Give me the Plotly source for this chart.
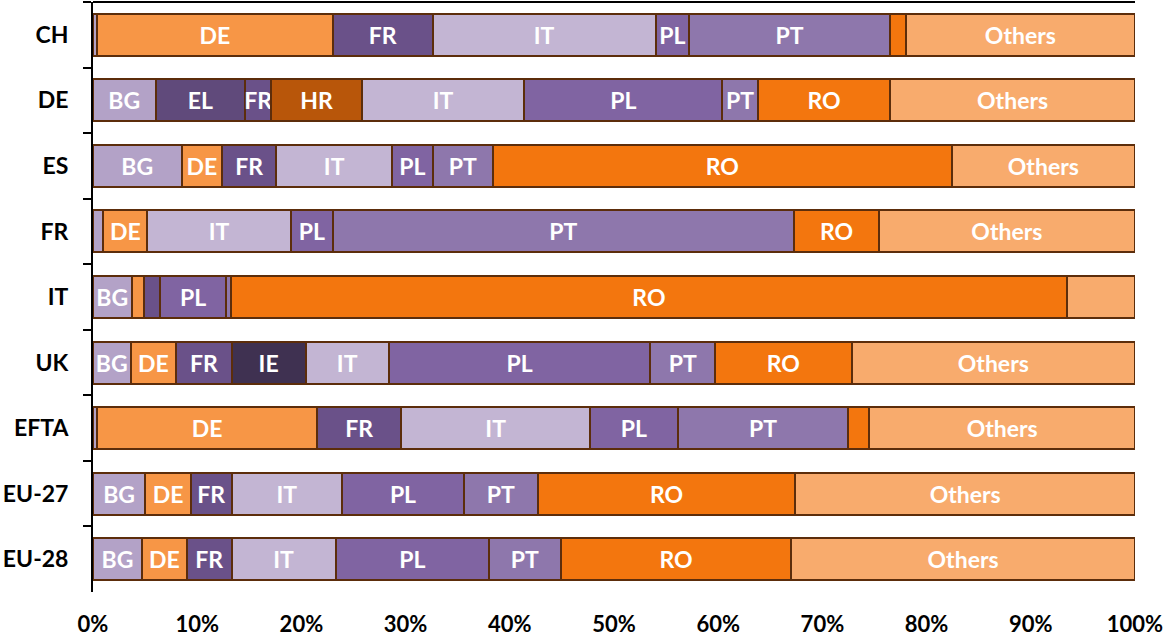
import plotly.graph_objects as go

rows = ["CH", "DE", "ES", "FR", "IT", "UK", "EFTA", "EU-27", "EU-28"]

# shares (%) per partner country, in row order above
BG     = [0.4, 6.0, 8.5, 1.0, 3.7, 3.6, 0.4, 5.0, 4.7]
DE     = [22.6, 0.0, 3.9, 4.2, 1.2, 4.4, 21.1, 4.4, 4.3]
EL     = [0.0, 8.6, 0.0, 0.0, 0.0, 0.0, 0.0, 0.0, 0.0]
FR     = [9.6, 2.5, 5.2, 0.0, 1.5, 5.3, 8.1, 3.9, 4.3]
HR     = [0.0, 8.7, 0.0, 0.0, 0.0, 0.0, 0.0, 0.0, 0.0]
IE     = [0.0, 0.0, 0.0, 0.0, 0.0, 7.1, 0.0, 0.0, 0.0]
IT     = [21.4, 15.6, 11.1, 13.8, 0.0, 8.0, 18.1, 10.6, 10.0]
PL     = [3.2, 19.0, 3.9, 4.0, 6.4, 25.1, 8.4, 11.7, 14.7]
PT     = [19.3, 3.4, 5.8, 44.3, 0.4, 6.2, 16.4, 7.1, 6.9]
RO     = [1.5, 12.7, 44.0, 8.1, 80.3, 13.1, 2.0, 24.7, 22.1]
Others = [22.0, 23.5, 17.6, 24.6, 6.5, 27.2, 25.5, 32.6, 33.0]

series = [
    ("BG", BG, "#b3a2c7"),
    ("DE", DE, "#f79646"),
    ("EL", EL, "#604a7b"),
    ("FR", FR, "#6a5189"),
    ("HR", HR, "#b8560a"),
    ("IE", IE, "#3f3151"),
    ("IT", IT, "#c3b5d3"),
    ("PL", PL, "#8064a2"),
    ("PT", PT, "#8e77ac"),
    ("RO", RO, "#f3760e"),
    ("Others", Others, "#f8ab6d"),
]

FONT = "Lato"
fig = go.Figure()
for name, vals, col in series:
    texts = [name if v >= len(name) * 1.1 else "" for v in vals]
    fig.add_trace(go.Bar(
        y=rows, x=vals, name=name, orientation="h",
        marker=dict(color=col, line=dict(color="#5c2d0b", width=2)),
        text=texts, textposition="inside", insidetextanchor="middle",
        textangle=0,
        textfont=dict(family=FONT, size=23, color="white", weight="bold"),
        hoverinfo="x+name",
    ))

fig.update_layout(
    barmode="stack",
    bargap=0.36,
    width=1166, height=639,
    margin=dict(l=93, r=31, t=2, b=47),
    plot_bgcolor="white", paper_bgcolor="white",
    showlegend=False,
    uniformtext=dict(minsize=23, mode="show"),
    font=dict(family=FONT, size=23, color="black", weight="bold"),
    shapes=[dict(type="line", xref="paper", yref="paper", x0=0, x1=1, y0=1, y1=1,
                 line=dict(color="black", width=2), layer="above")],
)
fig.update_xaxes(
    range=[0, 100], tickvals=[0, 10, 20, 30, 40, 50, 60, 70, 80, 90, 100],
    ticktext=[f"{v}%" for v in range(0, 101, 10)],
    showgrid=False, zeroline=False, showline=False, ticks="",
    ticklabelstandoff=17, automargin=False,
    tickfont=dict(family=FONT, size=22, color="black", weight="bold"),
)
fig.update_yaxes(
    autorange="reversed", showgrid=False, zeroline=False,
    showline=True, linecolor="black", linewidth=2,
    ticks="outside", tickson="boundaries", ticklen=8, tickwidth=2, tickcolor="black",
    ticklabelstandoff=18, automargin=False,
    tickfont=dict(family=FONT, size=23, color="black", weight="bold"),
)

fig.write_html("out.html")
